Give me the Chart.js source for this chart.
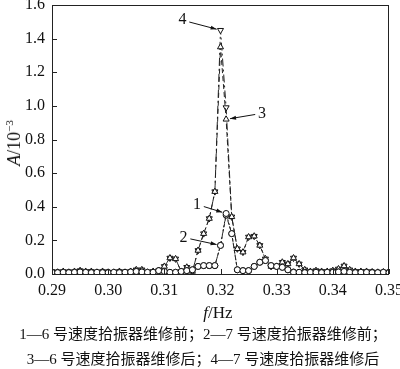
<!DOCTYPE html>
<html>
<head>
<meta charset="utf-8">
<script src="https://cdn.jsdelivr.net/npm/chart.js@4"></script>
<style>
  body { margin: 0; width: 400px; height: 369px; position: relative; background: #fff; overflow: hidden; }
  #wrap { position: absolute; left: 0; top: 0; width: 400px; height: 306px; }
  .serif { font-family: "Liberation Serif", "Noto Sans CJK SC", serif; color: #111; }
  #ytitle { position: absolute; left: 14px; top: 143px; transform: translate(-50%, -50%) rotate(-90deg); font-size: 18px; white-space: nowrap; }
  #ytitle sup { font-size: 11px; }
  #xtitle { position: absolute; left: 0; width: 436px; top: 303px; text-align: center; font-size: 17px; }
  .caption { position: absolute; left: 0; width: 406px; text-align: center; font-size: 15px; white-space: nowrap; }
</style>
</head>
<body>
<div id="wrap"><canvas id="chart" width="400" height="306"></canvas></div>
<div id="ytitle" class="serif"><i>A</i>/10<sup>&minus;3</sup></div>
<div id="xtitle" class="serif"><i>f</i>/Hz</div>
<div class="caption serif" style="top:322px">1—6 号速度拾振器维修前；2—7 号速度拾振器维修前；</div>
<div class="caption serif" style="top:347px">3—6 号速度拾振器维修后；4—7 号速度拾振器维修后</div>
<script>
const freqs = [
  0.290, 0.291, 0.292, 0.293, 0.294, 0.295, 0.296, 0.297, 0.298, 0.299,
  0.300, 0.301, 0.302, 0.303, 0.304, 0.305, 0.306, 0.307, 0.308, 0.309,
  0.310, 0.311, 0.312, 0.313, 0.314, 0.315, 0.316, 0.317, 0.318, 0.319,
  0.320, 0.321, 0.322, 0.323, 0.324, 0.325, 0.326, 0.327, 0.328, 0.329,
  0.330, 0.331, 0.332, 0.333, 0.334, 0.335, 0.336, 0.337, 0.338, 0.339,
  0.340, 0.341, 0.342, 0.343, 0.344, 0.345, 0.346, 0.347, 0.348, 0.349,
  0.350
];

// 1 - 6号 before repair (circles)
const before6 = [
  0.010, 0.008, 0.010, 0.008, 0.010, 0.012, 0.010, 0.008, 0.010, 0.008,
  0.008, 0.010, 0.008, 0.010, 0.012, 0.015, 0.012, 0.010, 0.010, 0.020,
  0.015, 0.010, 0.010, 0.015, 0.020, 0.025, 0.045, 0.050, 0.050, 0.050,
  0.170, 0.360, 0.240, 0.025, 0.020, 0.020, 0.045, 0.070, 0.080, 0.050,
  0.045, 0.040, 0.025, 0.010, 0.010, 0.008, 0.010, 0.010, 0.008, 0.010,
  0.010, 0.012, 0.015, 0.010, 0.008, 0.010, 0.010, 0.008, 0.008, 0.010,
  0.008
];

// 2 - 7号 before repair (circles)
const before7 = [
  0.010, 0.010, 0.008, 0.010, 0.010, 0.012, 0.010, 0.010, 0.008, 0.010,
  0.010, 0.008, 0.010, 0.010, 0.012, 0.015, 0.012, 0.010, 0.010, 0.020,
  0.015, 0.010, 0.010, 0.015, 0.020, 0.025, 0.045, 0.050, 0.050, 0.050,
  0.170, 0.350, 0.240, 0.025, 0.020, 0.020, 0.045, 0.070, 0.080, 0.050,
  0.045, 0.040, 0.025, 0.012, 0.010, 0.010, 0.010, 0.008, 0.010, 0.010,
  0.010, 0.012, 0.015, 0.010, 0.010, 0.008, 0.010, 0.010, 0.008, 0.008,
  0.010
];

// 3 - 6号 after repair (up triangles)
const after6 = [
  0.015, 0.010, 0.015, 0.010, 0.015, 0.020, 0.015, 0.015, 0.010, 0.015,
  0.010, 0.010, 0.015, 0.010, 0.015, 0.025, 0.025, 0.010, 0.015, 0.020,
  0.045, 0.095, 0.090, 0.015, 0.040, 0.015, 0.140, 0.240, 0.330, 0.490,
  1.350, 0.920, 0.340, 0.150, 0.130, 0.220, 0.225, 0.170, 0.090, 0.045,
  0.045, 0.070, 0.060, 0.095, 0.060, 0.025, 0.015, 0.020, 0.015, 0.015,
  0.020, 0.030, 0.048, 0.025, 0.015, 0.015, 0.015, 0.012, 0.010, 0.012,
  0.010
];

// 4 - 7号 after repair (down triangles)
const after7 = [
  0.015, 0.010, 0.015, 0.010, 0.015, 0.020, 0.015, 0.015, 0.010, 0.015,
  0.010, 0.010, 0.015, 0.010, 0.015, 0.025, 0.025, 0.010, 0.015, 0.020,
  0.045, 0.095, 0.090, 0.015, 0.040, 0.015, 0.140, 0.240, 0.330, 0.490,
  1.450, 0.990, 0.340, 0.150, 0.130, 0.220, 0.225, 0.170, 0.090, 0.045,
  0.045, 0.070, 0.060, 0.095, 0.060, 0.025, 0.015, 0.020, 0.015, 0.015,
  0.020, 0.030, 0.048, 0.025, 0.015, 0.015, 0.015, 0.012, 0.010, 0.012,
  0.010
];

const xTicks = [0.29, 0.30, 0.31, 0.32, 0.33, 0.34, 0.35];
const yTicks = [0.0, 0.2, 0.4, 0.6, 0.8, 1.0, 1.2, 1.4, 1.6];

// curve number labels: which dataset/point the arrow points at, and where the number sits
const callouts = [
  { text: "4", series: 3, index: 30, dx: -38, dy: -10 },
  { text: "3", series: 2, index: 31, dx: 36, dy: -6 },
  { text: "1", series: 0, index: 31, dx: -29, dy: -9 },
  { text: "2", series: 1, index: 30, dx: -37, dy: -8 },
];

function toPoints(values) {
  return values.map((v, i) => ({ x: freqs[i], y: v }));
}

function makeDataset(label, values, style, dash, rotation, radius) {
  return {
    label: label,
    data: toPoints(values),
    borderColor: "#222",
    borderWidth: 1,
    borderDash: dash,
    backgroundColor: "#fff",
    pointStyle: style,
    pointRotation: rotation,
    pointRadius: radius,
    pointBorderWidth: 1,
    pointBorderColor: "#111",
    pointBackgroundColor: "#fff",
    tension: 0,
  };
}

// frame box + inward tick marks
const frameAndTicks = {
  id: "frameAndTicks",
  afterDraw(chart) {
    const ctx = chart.ctx;
    const area = chart.chartArea;
    const xs = chart.scales.x;
    const ys = chart.scales.y;
    ctx.save();
    ctx.strokeStyle = "#222";
    ctx.lineWidth = 1;
    ctx.strokeRect(area.left + 0.5, area.top + 0.5, area.right - area.left - 1, area.bottom - area.top);
    ctx.beginPath();
    xTicks.forEach((t) => {
      const px = Math.round(xs.getPixelForValue(t)) + 0.5;
      ctx.moveTo(px, area.bottom);
      ctx.lineTo(px, area.bottom - 5);
    });
    yTicks.forEach((t) => {
      const py = Math.round(ys.getPixelForValue(t)) + 0.5;
      ctx.moveTo(area.left, py);
      ctx.lineTo(area.left + 5, py);
    });
    ctx.stroke();
    ctx.restore();
  },
};

// numbered arrows pointing at the curves
const curveCallouts = {
  id: "curveCallouts",
  afterDatasetsDraw(chart) {
    const ctx = chart.ctx;
    ctx.save();
    ctx.fillStyle = "#111";
    ctx.strokeStyle = "#111";
    ctx.lineWidth = 1;
    ctx.font = "16px 'Liberation Serif'";
    ctx.textAlign = "center";
    ctx.textBaseline = "middle";
    callouts.forEach((c) => {
      const pt = chart.getDatasetMeta(c.series).data[c.index];
      const tx = pt.x + c.dx;
      const ty = pt.y + c.dy;
      const len = Math.hypot(c.dx, c.dy);
      const ux = -c.dx / len;
      const uy = -c.dy / len;
      const sx = tx + ux * 7;
      const sy = ty + uy * 7;
      const ex = pt.x - ux * 4;
      const ey = pt.y - uy * 4;
      ctx.fillText(c.text, tx, ty);
      ctx.beginPath();
      ctx.moveTo(sx, sy);
      ctx.lineTo(ex, ey);
      ctx.stroke();
      // arrow head
      const px = -uy;
      const py = ux;
      ctx.beginPath();
      ctx.moveTo(ex, ey);
      ctx.lineTo(ex - ux * 6 + px * 2, ey - uy * 6 + py * 2);
      ctx.lineTo(ex - ux * 6 - px * 2, ey - uy * 6 - py * 2);
      ctx.closePath();
      ctx.fill();
    });
    ctx.restore();
  },
};

function drawSpectrumChart() {
  const ctx = document.getElementById("chart");

  new Chart(ctx, {
    type: "line",
    data: {
      datasets: [
        makeDataset("1", before6, "circle", [2, 2], 0, 3),
        makeDataset("2", before7, "circle", [4, 2], 0, 3),
        makeDataset("3", after6, "triangle", [5, 3], 0, 3.5),
        makeDataset("4", after7, "triangle", [8, 3, 2, 3], 180, 3.5),
      ],
    },
    options: {
      responsive: false,
      animation: false,
      layout: {
        padding: { top: 5, right: 11, left: 0, bottom: 0 },
      },
      plugins: {
        legend: { display: false },
        tooltip: { enabled: false },
      },
      scales: {
        x: {
          type: "linear",
          min: 0.29,
          max: 0.35,
          afterBuildTicks: (scale) => {
            scale.ticks = xTicks.map((v) => ({ value: v }));
          },
          afterFit: (scale) => {
            scale.height = 32;
            scale.paddingLeft = 0;
            scale.paddingRight = 0;
          },
          grid: { display: false, drawTicks: false },
          border: { display: false },
          ticks: {
            padding: 7,
            maxRotation: 0,
            autoSkip: false,
            color: "#111",
            font: { family: "Liberation Serif", size: 16 },
            callback: (v) => v.toFixed(2),
          },
        },
        y: {
          min: 0,
          max: 1.6,
          afterBuildTicks: (scale) => {
            scale.ticks = yTicks.map((v) => ({ value: v }));
          },
          afterFit: (scale) => {
            scale.width = 52;
            scale.paddingTop = 0;
            scale.paddingBottom = 0;
          },
          grid: { display: false, drawTicks: false },
          border: { display: false },
          ticks: {
            padding: 7,
            autoSkip: false,
            color: "#111",
            font: { family: "Liberation Serif", size: 16 },
            callback: (v) => v.toFixed(1),
          },
        },
      },
    },
    plugins: [frameAndTicks, curveCallouts],
  });
}

drawSpectrumChart();
</script>
</body>
</html>
